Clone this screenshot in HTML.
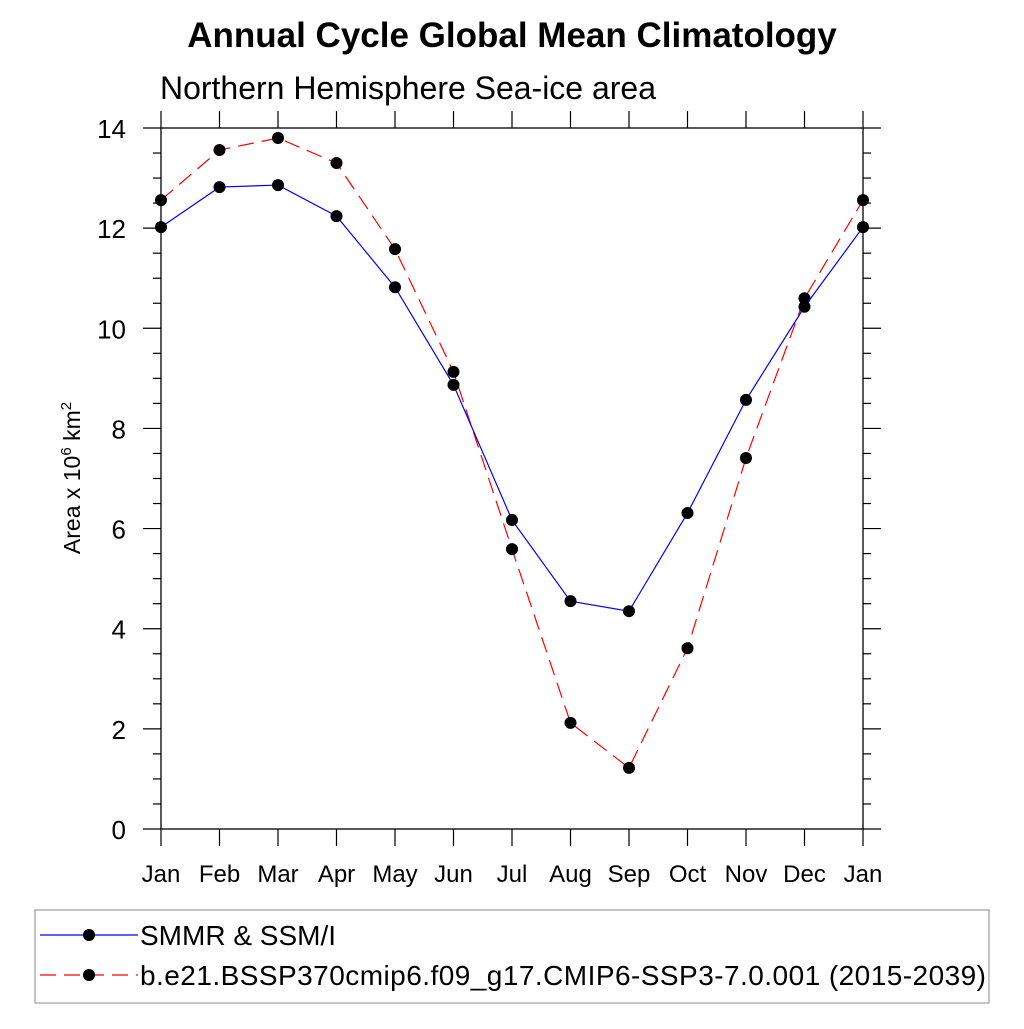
<!DOCTYPE html>
<html><head><meta charset="utf-8"><style>
body{margin:0;background:#fff;}
svg text{font-family:"Liberation Sans",sans-serif;}
</style></head><body>
<svg id="chart" width="1024" height="1024" viewBox="0 0 1024 1024">
<text x="512" y="47" text-anchor="middle" font-size="35" font-weight="bold">Annual Cycle Global Mean Climatology</text>
<text x="160" y="99" font-size="32" textLength="496">Northern Hemisphere Sea-ice area</text>
<text transform="translate(80,478) rotate(-90)" text-anchor="middle" font-size="23">Area x 10<tspan dy="-9" font-size="15">6</tspan><tspan dy="9"> km</tspan><tspan dy="-9" font-size="15">2</tspan></text>
<g id="axes"></g>
<g id="series"></g>
<rect x="35" y="910" width="954" height="93" fill="none" stroke="#888" stroke-width="1"/>
<g>
<line x1="40" y1="935" x2="138" y2="935" stroke="#00f" stroke-width="1.2"/>
<circle cx="89" cy="935" r="6" fill="#000"/>
<text x="140" y="945" font-size="28">SMMR &amp; SSM/I</text>
</g>
<g>
<line x1="40" y1="975" x2="138" y2="975" stroke="#f00" stroke-width="1.2" stroke-dasharray="16,8"/>
<circle cx="89" cy="975" r="6" fill="#000"/>
<text x="140" y="985" font-size="28" textLength="846">b.e21.BSSP370cmip6.f09_g17.CMIP6-SSP3-7.0.001 (2015-2039)</text>
</g>
</svg>
<script>
const months=["Jan","Feb","Mar","Apr","May","Jun","Jul","Aug","Sep","Oct","Nov","Dec","Jan"];
const obsValues=[12.02,12.82,12.86,12.24,10.82,8.87,6.17,4.55,4.35,6.31,8.57,10.43,12.02];
const modelValues=[12.56,13.56,13.80,13.30,11.58,9.13,5.59,2.12,1.22,3.61,7.41,10.60,12.56];
const yTicks=[0,2,4,6,8,10,12,14];
const L=161,R=863,T=128,B=829,ymax=14;
const NS="http://www.w3.org/2000/svg";
const xs=i=>L+(R-L)*i/(months.length-1);
const ys=v=>B-(B-T)*v/ymax;
function mk(tag,attrs,parent){const e=document.createElementNS(NS,tag);for(const k in attrs)e.setAttribute(k,attrs[k]);parent.appendChild(e);return e;}
const ax=document.getElementById('axes');
const fr=mk('rect',{x:L,y:T,width:R-L,height:B-T,fill:'none',stroke:'#000','stroke-width':1.3},ax);


months.forEach((m,i)=>{
  const x=xs(i);
  mk('line',{x1:x,y1:B,x2:x,y2:B+17,stroke:'#000','stroke-width':1.2},ax);
  mk('line',{x1:x,y1:T,x2:x,y2:T-17,stroke:'#000','stroke-width':1.2},ax);
  const t=mk('text',{x:x,y:882,'text-anchor':'middle','font-size':24},ax);
  t.textContent=m;
  
  
});
for(let v=0;v<=ymax;v+=0.5){
  const y=ys(v),major=v%2===0,len=major?18:8;
  mk('line',{x1:L,y1:y,x2:L-len,y2:y,stroke:'#000','stroke-width':1.2},ax);
  mk('line',{x1:R,y1:y,x2:R+len,y2:y,stroke:'#000','stroke-width':1.2},ax);
}
yTicks.forEach(v=>{
  const t=mk('text',{x:126,y:ys(v)+10,'text-anchor':'end','font-size':26},ax);
  t.textContent=v;
  
  
});
const sg=document.getElementById('series');
function series(vals,color,dash,name){
  const pts=vals.map((v,i)=>xs(i)+','+ys(v)).join(' ');
  const p=mk('polyline',{points:pts,fill:'none',stroke:color,'stroke-width':1.2},sg);
  if(dash)p.setAttribute('stroke-dasharray',dash);
  
  
  vals.forEach((v,i)=>{
    const c=mk('circle',{cx:xs(i),cy:ys(v),r:6,fill:'#000'},sg);
    
    
  });
}
series(modelValues,'#f00','16,8','model-series');
series(obsValues,'#00f',null,'obs-series');
</script>
</body></html>
